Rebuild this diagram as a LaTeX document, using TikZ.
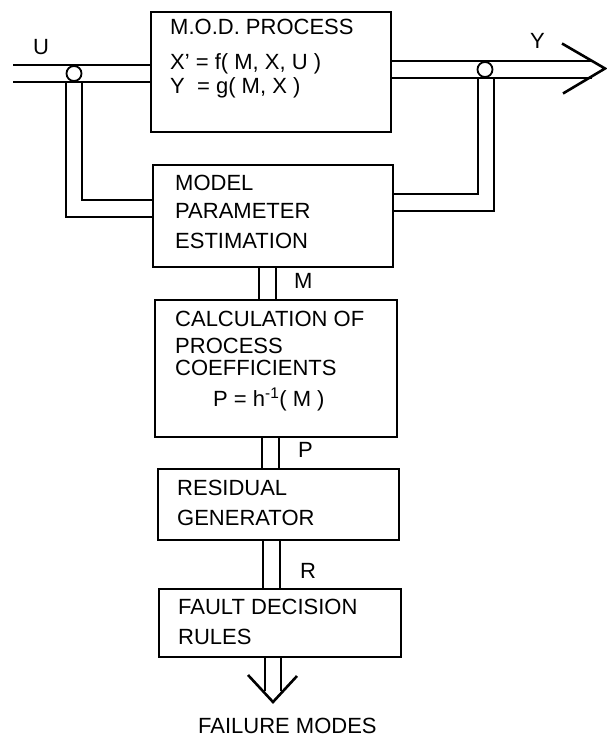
\documentclass[tikz,border=0pt]{standalone}
\usepackage{fontspec}
\setmainfont{Liberation Sans}
\usetikzlibrary{backgrounds}
\begin{document}
\begin{tikzpicture}[x=1pt,y=-1pt,
  box/.style={draw, line width=2pt, rectangle, inner sep=0pt, anchor=north west},
  txt/.style={anchor=base west, inner sep=0pt, font=\fontsize{22}{26}\selectfont},
  dbl/.style={line width=2.2pt, double, double distance=14.2pt},
  arr/.style={line width=2.6pt},
  circ/.style={draw, circle, line width=1.8pt, fill=white, minimum size=15pt, inner sep=0pt}]
\useasboundingbox (0,0) rectangle (606,738);
% boxes
\node[box, minimum width=240pt, minimum height=120pt] (proc) at (150,11) {};
\node[box, minimum width=240pt, minimum height=102pt] (model) at (152,164) {};
\node[box, minimum width=242pt, minimum height=137pt] (calc) at (154,299) {};
\node[box, minimum width=241pt, minimum height=71pt] (resid) at (157,468) {};
\node[box, minimum width=242pt, minimum height=68pt] (fault) at (158,588) {};
% texts
\node[txt] (t1) at (170,35) {M.O.D. PROCESS};
\node[txt] (t2) at (170,70) {X' = f( M, X, U )};
\node[txt] (t3) at (170,94) {Y \ = g( M, X )};
\node[txt] (t4) at (175,190) {MODEL};
\node[txt] (t5) at (175,218) {PARAMETER};
\node[txt] (t6) at (175,248) {ESTIMATION};
\node[txt] (t7) at (175,326) {CALCULATION OF};
\node[txt] (t8) at (175,353) {PROCESS};
\node[txt] (t9) at (175,375) {COEFFICIENTS};
\node[txt] (t10) at (213,406) {P = h\textsuperscript{-1}( M )};
\node[txt] (t11) at (177,495) {RESIDUAL};
\node[txt] (t12) at (177,525) {GENERATOR};
\node[txt] (t13) at (178,614) {FAULT DECISION};
\node[txt] (t14) at (178,644) {RULES};
\node[txt] (t15) at (198,733) {FAILURE MODES};
\node[txt] (lu) at (33,55) {U};
\node[txt] (ly) at (530,49) {Y};
\node[txt] (lm) at (294,288) {M};
\node[txt] (lp) at (298,457) {P};
\node[txt] (lr) at (300,578) {R};
% junction circles
\node[circ] (cl) at (74,73.5) {};
\node[circ] (cr) at (485,69.5) {};
% coordinates
\coordinate (uin) at (13,73.5);
\coordinate (yout) at (592,69.5);
\coordinate (ytip) at (605,68.5);
\coordinate (lk) at (0,208.5);
\coordinate (rk) at (0,202.5);
\begin{scope}[on background layer]
  % feedback paths
  \draw[dbl] (cl.center) |- (model.west |- lk);
  \draw[dbl] ([xshift=1pt]cr.center) |- (model.east |- rk);
  % main signal lines
  \draw[dbl] (uin) -- (uin -| proc.west);
  \draw[dbl] (yout -| proc.east) -- (yout);
  % vertical links
  \draw[dbl] ([xshift=-5.5pt]model.south) -- ([xshift=-5.5pt]model.south |- calc.north);
  \draw[dbl] ([xshift=-5.5pt]calc.south) -- ([xshift=-5.5pt]calc.south |- resid.north);
  \draw[dbl] ([xshift=-7pt]resid.south) -- ([xshift=-7pt]resid.south |- fault.north);
  \coordinate (fend) at ([xshift=-7pt,yshift=-33pt]fault.south);
  \draw[dbl] ([xshift=-7pt]fault.south) -- (fend);
\end{scope}
% arrow heads
\draw[arr] (ytip) ++(-43,-25) -- (ytip) -- ++(-42,25);
\coordinate (ftip) at ([xshift=-7pt,yshift=-44pt]fault.south);
\draw[arr] (ftip) ++(-25,-27) -- (ftip) -- ++(24,-26);
\end{tikzpicture}
\end{document}
